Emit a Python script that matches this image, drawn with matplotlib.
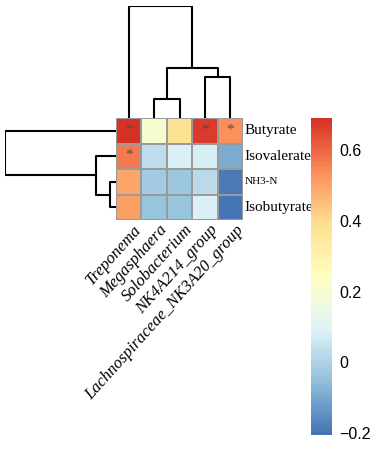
import numpy as np
import matplotlib
matplotlib.use('Agg')
import matplotlib.pyplot as plt
from matplotlib.colors import LinearSegmentedColormap, Normalize
from matplotlib.cm import ScalarMappable

# data
genera = ['Treponema', 'Megasphaera', 'Solobacterium', 'NK4A214_group',
          'Lachnospiraceae_NK3A20_group']
acids = ['Butyrate', 'Isovalerate', 'NH3-N', 'Isobutyrate']

butyrate = [0.69, 0.20, 0.38, 0.67, 0.53]
isovalerate = [0.57, 0.03, 0.09, 0.08, -0.09]
nh3n = [0.50, -0.02, -0.03, 0.02, -0.19]
isobutyrate = [0.51, -0.04, -0.04, 0.09, -0.205]

# significance marks (row, col)
stars = [(0, 0), (0, 3), (0, 4), (1, 0)]

# dendrogram merges: (left node, right node, height); leaves are 0..n-1
colMerges = [(1, 2, 19), (3, 4, 41), (5, 6, 50), (0, 7, 112)]
rowMerges = [(2, 3, 6), (1, 4, 20), (0, 5, 111)]

cbTicks = [-0.2, 0, 0.2, 0.4, 0.6]
cbTickLabels = ['\u22120.2', '0', '0.2', '0.4', '0.6']

palette = ['#4575B4', '#91BFDB', '#E0F3F8', '#FFFFBF', '#FEE090', '#FC8D59', '#D73027']


def drawDendrogram(ax, merges, nLeaves, horizontal):
    pos = {i: i + 0.5 for i in range(nLeaves)}
    hgt = {i: 0 for i in range(nLeaves)}
    node = nLeaves
    for a, b, h in merges:
        xs = [pos[a], pos[a], pos[b], pos[b]]
        ys = [hgt[a], h, h, hgt[b]]
        if horizontal:
            ax.plot(ys, xs, color='black', lw=1.5, solid_capstyle='butt')
        else:
            ax.plot(xs, ys, color='black', lw=1.5, solid_capstyle='butt')
        pos[node] = (pos[a] + pos[b]) / 2
        hgt[node] = h
        node += 1
    ax.axis('off')


W, H = 383, 453
fig = plt.figure(figsize=(W / 100, H / 100), dpi=100)


def px(x0, y0, x1, y1):
    return [x0 / W, 1 - y1 / H, (x1 - x0) / W, (y1 - y0) / H]


values = np.array([butyrate, isovalerate, nh3n, isobutyrate])
cmap = LinearSegmentedColormap.from_list('rdylbu', palette, N=100)
norm = Normalize(vmin=values.min(), vmax=values.max())

hmLeft, hmRight, hmTop, hmBottom = 116, 243, 118, 220

ax = fig.add_axes(px(hmLeft, hmTop, hmRight, hmBottom))
ax.pcolormesh(values, cmap=cmap, norm=norm, edgecolors='#9a9a9a', linewidth=1.3)
ax.set_xlim(0, len(genera))
ax.set_ylim(len(acids), 0)
for s in ax.spines.values():
    s.set_visible(False)
ax.set_xticks([])
ax.set_yticks([])

for r, c in stars:
    ax.text(c + 0.5, r + 0.46, '*', ha='center', va='center', fontsize=11,
            color='#5a4848', family='Liberation Serif')

# row labels
for i, name in enumerate(acids):
    size = 8 if name == 'NH3-N' else 11
    ax.text(len(genera) + 0.06, i + 0.5, name, ha='left', va='center',
            fontsize=size, family='Liberation Serif')

# column labels
for j, name in enumerate(genera):
    ax.text(j + 0.68, len(acids) + 0.08, name, ha='right', va='top', rotation=48,
            rotation_mode='anchor', fontsize=12, family='Liberation Serif',
            style='italic')

# dendrograms
axCol = fig.add_axes(px(hmLeft, 6, hmRight, hmTop))
drawDendrogram(axCol, colMerges, len(genera), False)
axCol.set_xlim(0, len(genera))
axCol.set_ylim(0, 112)

axRow = fig.add_axes(px(4.7, hmTop, hmLeft, hmBottom))
drawDendrogram(axRow, rowMerges, len(acids), True)
axRow.set_ylim(len(acids), 0)
axRow.set_xlim(111.3, 0)

# colour legend
cax = fig.add_axes(px(311, 118, 332, 435))
sm = ScalarMappable(norm=norm, cmap=cmap)
cb = fig.colorbar(sm, cax=cax)
cb.outline.set_visible(False)
cb.set_ticks(cbTicks)
cb.set_ticklabels(cbTickLabels)
cax.tick_params(length=0, pad=5, labelsize=11.5)
for lbl in cax.get_yticklabels():
    lbl.set_family('Liberation Sans')

plt.savefig('out.png', dpi=100)
